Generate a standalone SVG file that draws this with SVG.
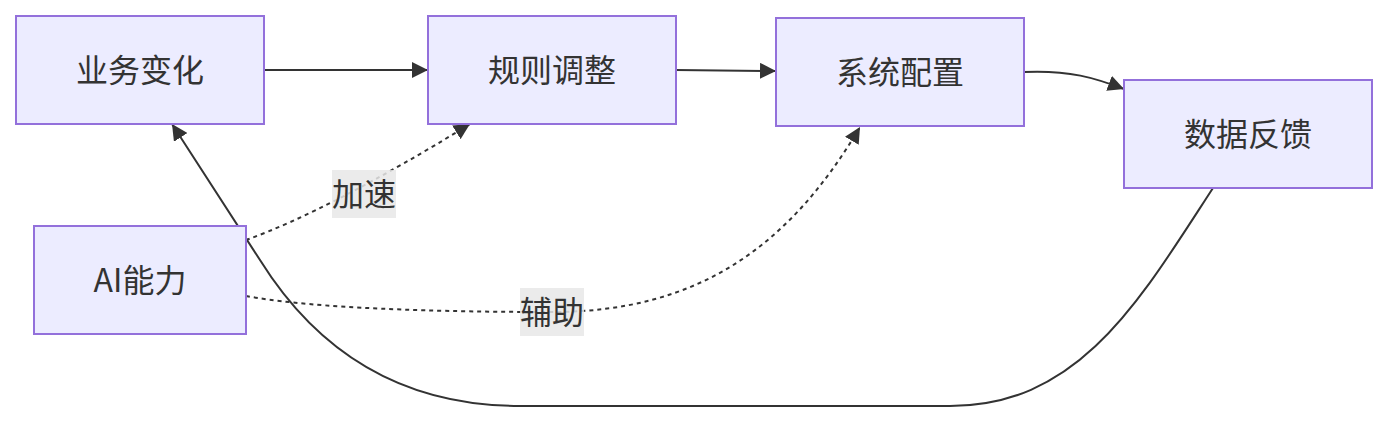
<svg xmlns="http://www.w3.org/2000/svg" width="1388" height="422" viewBox="0 0 1388 422">
<style>
.node rect{fill:#ECECFF;stroke:#9370DB;stroke-width:2}
.node text,.lbl text{font-family:"Noto Sans CJK SC","Noto Sans",sans-serif;font-size:32px;fill:#333;text-anchor:middle;dominant-baseline:central}
.edge{fill:none;stroke:#333;stroke-width:2}
.dot{stroke-dasharray:4 4}
.lbl rect{fill:#e8e8e8;opacity:0.85}
</style>
<defs>
<marker id="arr" viewBox="0 0 10 10" refX="10" refY="5" markerWidth="16" markerHeight="16" markerUnits="userSpaceOnUse" orient="auto">
<path d="M0,0 L10,5 L0,10 z" fill="#333"/>
</marker>
</defs>
<g id="connectors">
<path class="edge" d="M264,70 L428,70" marker-end="url(#arr)"/>
<path class="edge" d="M676,70 L776,71" marker-end="url(#arr)"/>
<path class="edge" d="M1024,72 C1070,70 1095,78 1124,89" marker-end="url(#arr)"/>
<path class="edge" d="M1213,188 C1140,300 1080,406 950,406 L520,406 C390,406 310,340 260,260 L172,124" marker-end="url(#arr)"/>
<path class="edge dot" d="M246,240 Q330,210 470,124" marker-end="url(#arr)"/>
<path class="edge dot" d="M246,296 C300,306 400,312 552,312 C700,312 790,245 860,127" marker-end="url(#arr)"/>
</g>
<g class="lbl" id="label-jiasu"><rect x="332" y="170" width="64" height="48"/><text x="364" y="192">加速</text></g>
<g class="lbl" id="label-fuzhu"><rect x="520" y="288" width="64" height="48"/><text x="552" y="310">辅助</text></g>
<g class="node" id="n-yewu"><rect x="16" y="16" width="248" height="108"/><text x="140" y="68">业务变化</text></g>
<g class="node" id="n-guize"><rect x="428" y="16" width="248" height="108"/><text x="552" y="68">规则调整</text></g>
<g class="node" id="n-xitong"><rect x="776" y="18" width="248" height="108"/><text x="900" y="70">系统配置</text></g>
<g class="node" id="n-shuju"><rect x="1124" y="80" width="248" height="108"/><text x="1248" y="132">数据反馈</text></g>
<g class="node" id="n-ai"><rect x="34" y="226" width="212" height="108"/><text x="140" y="278">AI能力</text></g>
</svg>
